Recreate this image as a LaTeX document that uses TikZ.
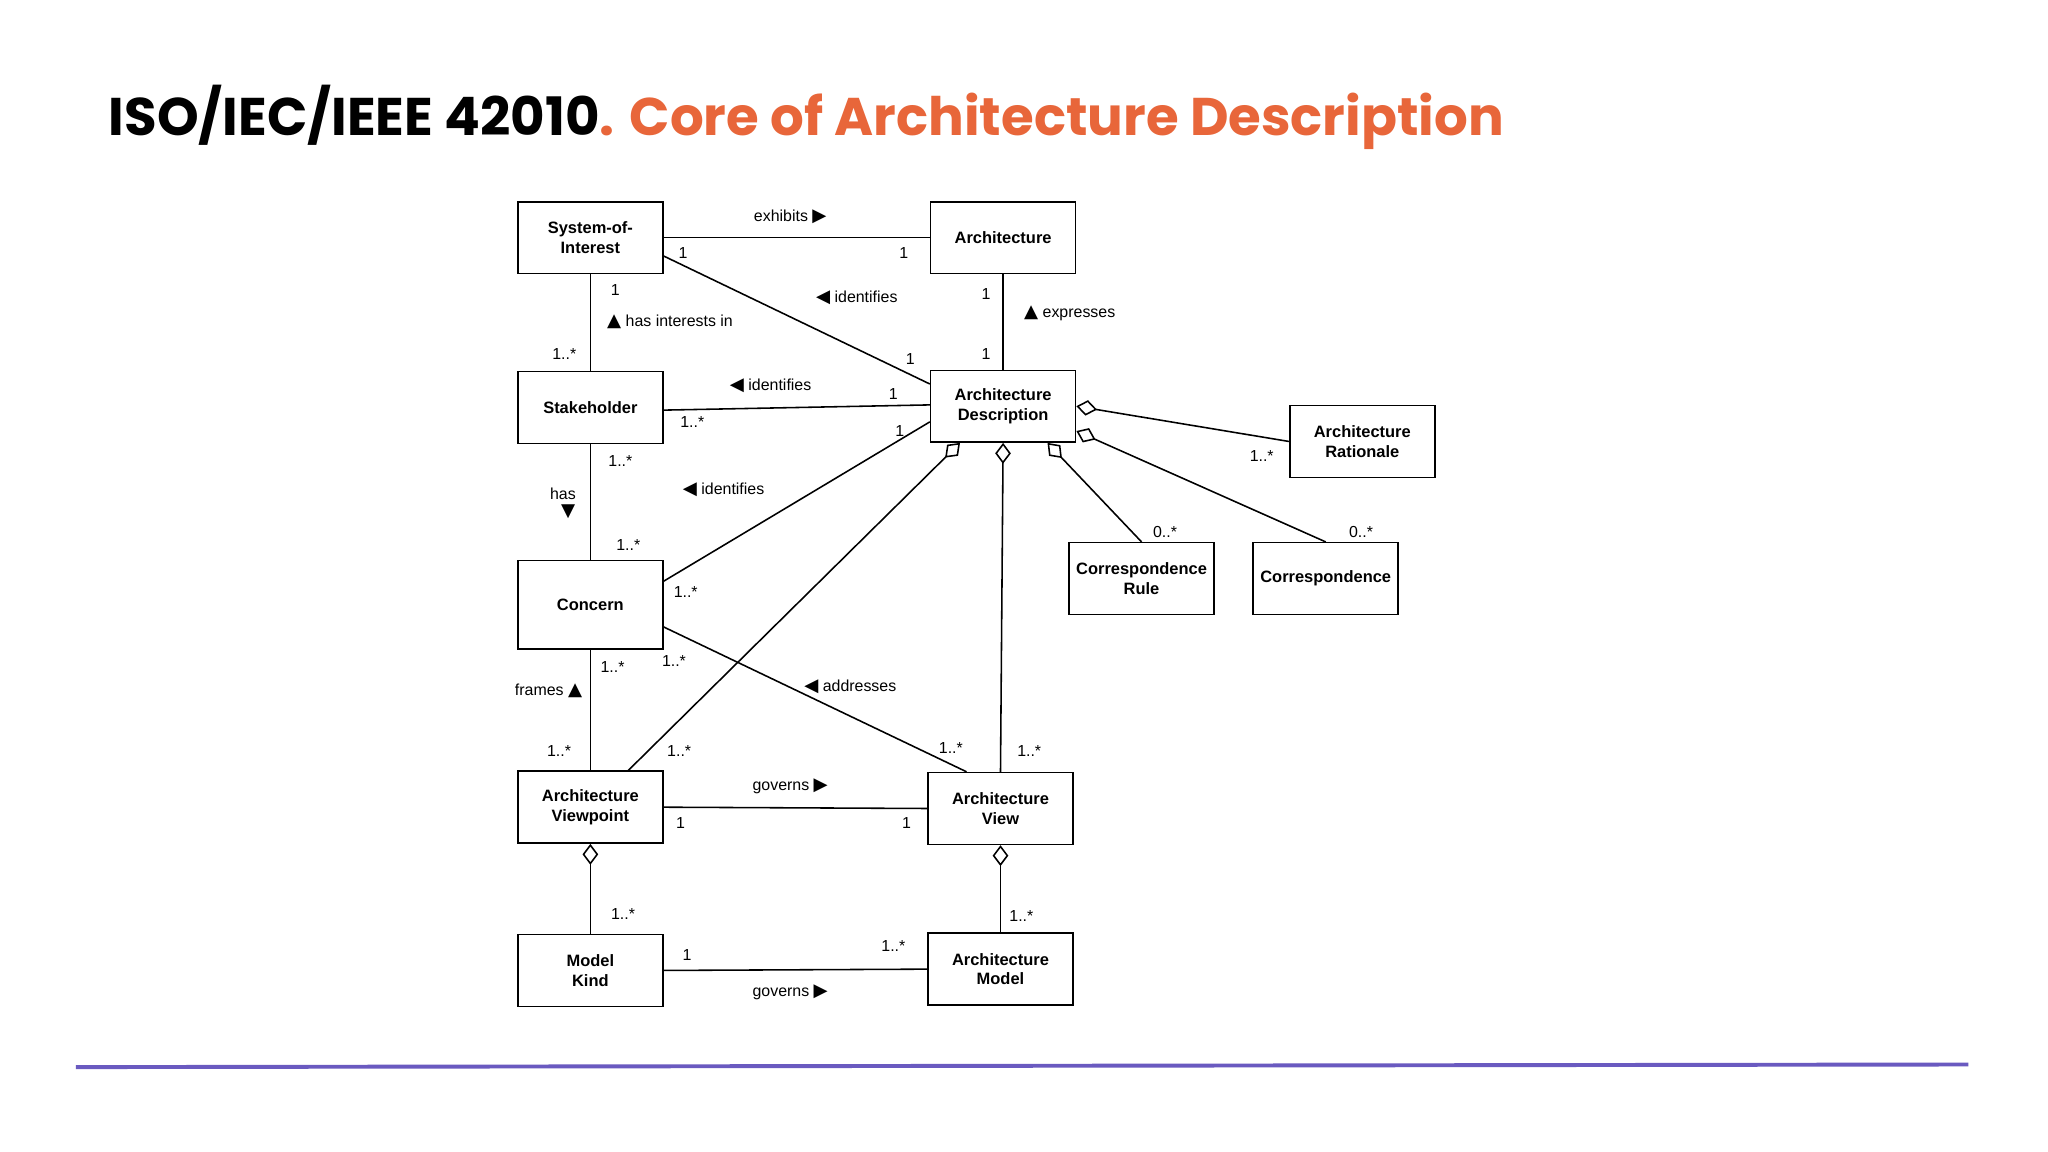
\documentclass[tikz,border=0pt]{standalone}
\usepackage{fontspec}
\setmainfont{Liberation Sans}
\newfontfamily\titlefont{Poppins}
\newfontfamily\symf{DejaVu Sans}
\newcommand{\tri}[1]{{\symf\fontsize{7}{7}\selectfont#1}}
\usetikzlibrary{arrows.meta}
\definecolor{orng}{HTML}{E8663A}
\definecolor{purp}{HTML}{6A5AC0}
\begin{document}
\begin{tikzpicture}[x=0.5pt,y=-0.5pt,
  box/.style={draw,line width=0.6pt,minimum width=55.5pt,minimum height=27.5pt,align=center,font=\fontsize{6.3}{7.5}\selectfont\bfseries,inner sep=1pt},
  lbl/.style={font=\fontsize{6.1}{7}\selectfont,inner sep=0.5pt},
  con/.style={line width=0.6pt},
  agg/.style={line width=0.6pt,{Diamond[open,length=8pt,width=6pt]}-}]
\useasboundingbox[fill=white] (0,0) rectangle (1568,882);
\node[anchor=base west,inner sep=0,font=\titlefont\fontsize{20.3}{24}\selectfont\bfseries] (title) at (83,104) {ISO/IEC/IEEE 42010\textcolor{orng}{. Core of Architecture Description}};
\draw[purp,line width=1.5pt] (58,817) -- (1507,815);

\node[box] (soi) at (452,182) {System-of-\\Interest};
\node[box] (arch) at (768,182) {Architecture};
\node[box] (stk) at (452,312) {Stakeholder};
\node[box] (ad) at (768,311) {Architecture\\Description};
\node[box] (ar) at (1043,338) {Architecture\\Rationale};
\node[box,minimum height=34pt] (conc) at (452,463) {Concern};
\node[box] (cr) at (874,443) {Correspondence\\Rule};
\node[box] (corr) at (1015,443) {Correspondence};
\node[box] (avp) at (452,618) {Architecture\\Viewpoint};
\node[box] (av) at (766,619) {Architecture\\View};
\node[box] (mk) at (452,743) {Model\\Kind};
\node[box] (am) at (766,742) {Architecture\\Model};

\draw[con] (soi) -- (arch);
\draw[con] ([yshift=-7pt]soi.east) -- ([yshift=8.5pt]ad.west);
\draw[con] (soi) -- (stk);
\draw[con] (arch) -- (ad);
\draw[con] ([yshift=-1pt]stk.east) -- ([yshift=0.5pt]ad.west);
\draw[con] (stk) -- (conc);
\draw[con] ([yshift=9pt]conc.east) -- ([yshift=-6pt]ad.west);
\draw[agg] ([xshift=-16.5pt]ad.south) -- ([xshift=14.5pt]avp.north);
\draw[agg] (ad.south) -- (av.north);
\draw[agg] ([xshift=17pt]ad.south) -- (cr.north);
\draw[agg] (ad.east) -- (ar.west);
\draw[agg] ([yshift=-9.5pt]ad.east) -- (corr.north);
\draw[con] ([yshift=-8.5pt]conc.east) -- ([xshift=-13pt]av.north);
\draw[con] (conc) -- (avp);
\draw[con] (avp.east) -- (av.west);
\draw[agg] (avp.south) -- (mk.north);
\draw[agg] (av.south) -- (am.north);
\draw[con] (mk.east) -- (am.west);

\node[lbl] (l1) at (605,166) {exhibits \tri{▶}};
\node[lbl] (l2) at (523,194) {1};
\node[lbl] (l3) at (692,194) {1};
\node[lbl] (l4) at (656,228) {\tri{◀} identifies};
\node[lbl] (l5) at (697,275) {1};
\node[lbl] (l6) at (471,222) {1};
\node[lbl] (l7) at (513,246) {\tri{▲} has interests in};
\node[lbl] (l8) at (432,271) {1..*};
\node[lbl] (l9) at (755,225) {1};
\node[lbl] (l10) at (819,240) {\tri{▲} expresses};
\node[lbl] (l11) at (755,271) {1};
\node[lbl] (l12) at (590,295) {\tri{◀} identifies};
\node[lbl] (l13) at (684,302) {1};
\node[lbl] (l14) at (530,323) {1..*};
\node[lbl] (l15) at (475,353) {1..*};
\node[lbl] (l16) at (431,378) {has};
\node[lbl] (l17) at (435,392) {\tri{▼}};
\node[lbl] (l18) at (481,417) {1..*};
\node[lbl] (l19) at (554,375) {\tri{◀} identifies};
\node[lbl] (l20) at (689,330) {1};
\node[lbl] (l21) at (525,453) {1..*};
\node[lbl] (l22) at (651,526) {\tri{◀} addresses};
\node[lbl] (l23) at (516,506) {1..*};
\node[lbl] (l24) at (728,573) {1..*};
\node[lbl] (l25) at (469,511) {1..*};
\node[lbl] (l26) at (420,529) {frames \tri{▲}};
\node[lbl] (l27) at (428,575) {1..*};
\node[lbl] (l28) at (520,575) {1..*};
\node[lbl] (l29) at (788,575) {1..*};
\node[lbl] (l30) at (605,602) {governs \tri{▶}};
\node[lbl] (l31) at (521,630) {1};
\node[lbl] (l32) at (694,630) {1};
\node[lbl] (l33) at (477,700) {1..*};
\node[lbl] (l34) at (782,701) {1..*};
\node[lbl] (l35) at (526,731) {1};
\node[lbl] (l36) at (684,724) {1..*};
\node[lbl] (l37) at (605,760) {governs \tri{▶}};
\node[lbl] (l38) at (966,349) {1..*};
\node[lbl] (l39) at (892,407) {0..*};
\node[lbl] (l40) at (1042,407) {0..*};
\end{tikzpicture}
\end{document}
